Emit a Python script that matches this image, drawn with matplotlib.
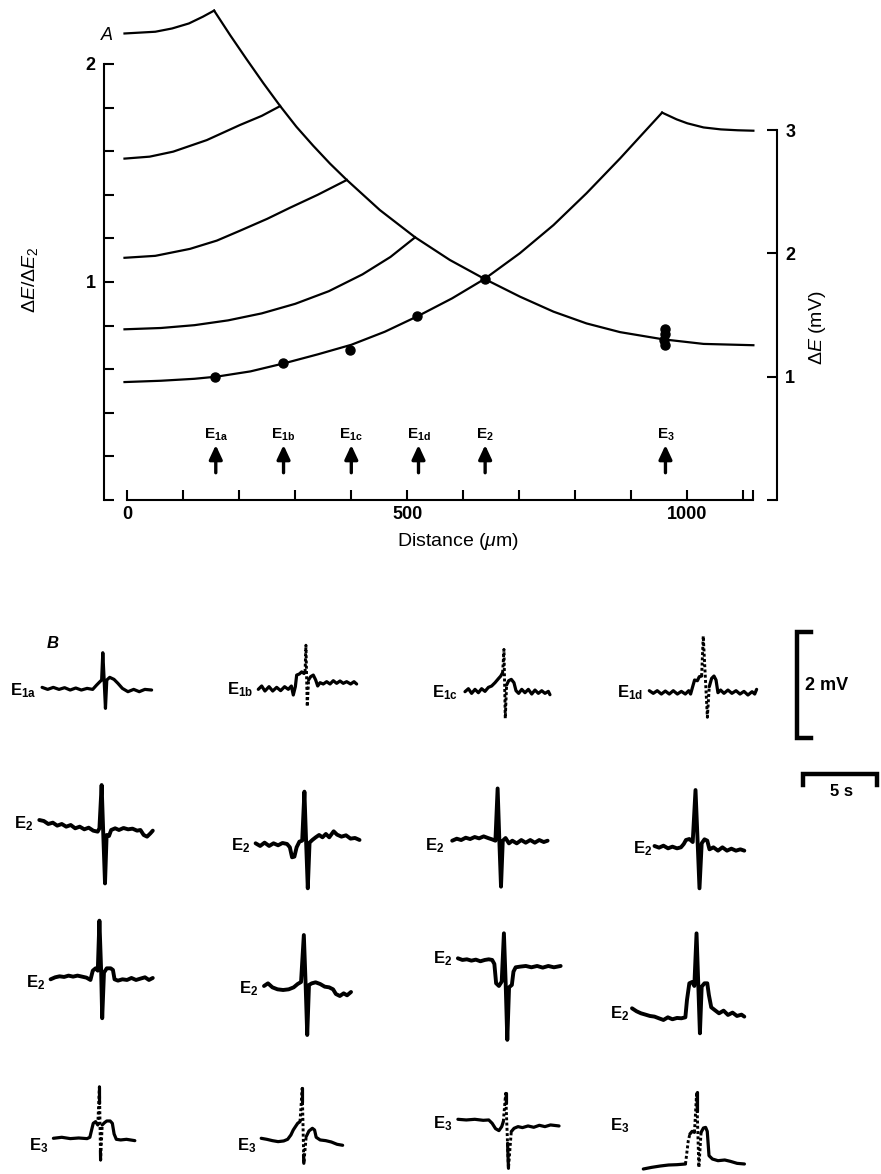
import numpy as np
import matplotlib.pyplot as plt

plt.rcParams['font.family'] = ['Liberation Sans', 'DejaVu Sans']
plt.rcParams['mathtext.fontset'] = 'custom'
plt.rcParams['mathtext.rm'] = 'Liberation Sans'
plt.rcParams['mathtext.it'] = 'Liberation Sans:italic'
plt.rcParams['mathtext.bf'] = 'Liberation Sans:bold'

W, H = 881, 1174

# ---------------- panel A data (distance in um, dE/dE2) ----------------
electrode_names = ['E_{1a}', 'E_{1b}', 'E_{1c}', 'E_{1d}', 'E_{2}', 'E_{3}']
electrode_pos = [158, 279, 400, 520, 639, 961]

# curves recorded with the reference electrode at E1a..E1d
curve_1a_x = [-5, 50, 80, 110, 135, 155]
curve_1a_y = [2.14, 2.148, 2.163, 2.186, 2.217, 2.245]
curve_1b_x = [-5, 40, 82, 142, 201, 240, 273]
curve_1b_y = [1.566, 1.575, 1.598, 1.651, 1.72, 1.762, 1.807]
curve_1c_x = [-5, 50, 112, 160, 201, 250, 290, 340, 392]
curve_1c_y = [1.111, 1.12, 1.152, 1.19, 1.235, 1.29, 1.34, 1.40, 1.468]
curve_1d_x = [-5, 60, 120, 180, 240, 300, 360, 420, 470, 514]
curve_1d_y = [0.783, 0.789, 0.802, 0.824, 0.856, 0.90, 0.958, 1.035, 1.115, 1.205]
# curve through the measured points, up to E3
curve_main_x = [-5, 60, 120, 160, 220, 280, 340, 400, 460, 520, 580, 638,
                701, 761, 820, 880, 921, 955]
curve_main_y = [0.541, 0.547, 0.556, 0.566, 0.59, 0.627, 0.668, 0.712, 0.772,
                0.845, 0.925, 1.014, 1.132, 1.261, 1.407, 1.567, 1.682, 1.777]
curve_end_x = [955, 981, 1000, 1029, 1060, 1090, 1118]
curve_end_y = [1.777, 1.746, 1.728, 1.709, 1.70, 1.696, 1.694]
# falling envelope
curve_fall_x = [155, 184, 213, 243, 273, 302, 332, 362, 392, 451, 514, 576, 638,
                701, 761, 820, 880, 957, 1029, 1118]
curve_fall_y = [2.245, 2.131, 2.022, 1.912, 1.807, 1.712, 1.625, 1.543, 1.468, 1.33,
                1.205, 1.101, 1.014, 0.933, 0.864, 0.81, 0.77, 0.737, 0.716, 0.710]
# measured points
dots_x = [157, 278, 398, 518, 638, 961, 960, 959, 960]
dots_y = [0.566, 0.627, 0.688, 0.845, 1.014, 0.785, 0.76, 0.735, 0.71]

# ---------------- panel B traces (t in s, v in mV) ----------------
e1a_trace = [(0, 0.025), (0.38, -0.013), (0.76, 0.025), (1.15, -0.013), (1.53, 0.019),
             (1.91, -0.025), (2.29, 0.013), (2.67, -0.025), (3.06, 0.006), (3.44, -0.013),
             (3.71, 0.069), (3.93, 0.131), (4.05, 0.163), (4.13, 0.675), (4.22, 0.163),
             (4.31, -0.369), (4.40, 0.163), (4.6, 0.213), (4.89, 0.175), (5.16, 0.10),
             (5.46, 0.006), (5.84, -0.056), (6.23, -0.013), (6.61, -0.056), (6.99, -0.013),
             (7.45, -0.025)]

e1b_pre = [(0, 0.0125), (0.23, 0.075), (0.45, -0.019), (0.73, 0.0625), (0.98, -0.019),
           (1.25, 0.05), (1.52, -0.0125), (1.79, 0.0625), (2.04, 0.0125), (2.25, 0.075),
           (2.38, -0.094), (2.52, 0.0625), (2.61, 0.28), (2.79, 0.30), (2.95, 0.34),
           (3.11, 0.31), (3.18, 0.34)]
e1b_spike = [(3.18, 0.34), (3.24, 0.84), (3.33, -0.31), (3.42, 0.19)]
e1b_post = [(3.42, 0.19), (3.56, 0.25), (3.74, 0.28), (3.90, 0.19), (4.04, 0.075),
            (4.20, 0.1375), (4.42, 0.1125), (4.65, 0.156), (4.88, 0.1125), (5.10, 0.175),
            (5.33, 0.125), (5.56, 0.169), (5.78, 0.125), (6.01, 0.156), (6.28, 0.1125),
            (6.51, 0.156), (6.69, 0.1125)]

e1c_pre = [(0, 0.019), (0.23, 0.075), (0.45, -0.0125), (0.68, 0.0625), (0.91, 0),
           (1.13, 0.075), (1.36, 0.025), (1.59, 0.1), (1.81, 0.125), (2.04, 0.1875),
           (2.27, 0.2625), (2.43, 0.3125), (2.56, 0.375)]
e1c_spike = [(2.56, 0.375), (2.65, 0.8125), (2.74, -0.48), (2.83, 0.144)]
e1c_post = [(2.83, 0.144), (2.97, 0.225), (3.15, 0.25), (3.33, 0.1875), (3.47, 0.0375),
            (3.65, -0.0125), (3.86, 0.0625), (4.08, 0), (4.31, 0.0625), (4.54, -0.025),
            (4.76, 0.05), (4.99, -0.0125), (5.22, 0.0375), (5.44, -0.0125), (5.67, 0.025),
            (5.78, -0.0375)]

e1d_pre = [(0, 0.019), (0.27, -0.031), (0.54, 0.019), (0.82, -0.044), (1.09, 0.0125),
           (1.36, -0.044), (1.63, 0.019), (1.91, -0.044), (2.18, 0.006), (2.45, -0.044),
           (2.68, 0.019), (2.81, -0.044), (2.95, 0.094), (3.08, 0.219), (3.27, 0.206),
           (3.40, 0.281), (3.56, 0.294)]
e1d_spike = [(3.56, 0.294), (3.67, 1.044), (3.95, -0.48), (4.08, 0.094)]
e1d_post = [(4.08, 0.094), (4.24, 0.25), (4.40, 0.294), (4.54, 0.219), (4.67, -0.019),
            (4.85, 0.031), (5.08, -0.031), (5.35, 0.031), (5.62, -0.031), (5.90, 0.019),
            (6.17, -0.044), (6.44, 0.006), (6.71, -0.0625), (6.99, 0), (7.17, -0.044),
            (7.30, 0.044)]

e2_r2c1 = [(0, 0), (0.31, -0.019), (0.61, -0.075), (0.92, -0.05), (1.22, -0.106),
           (1.53, -0.075), (1.83, -0.125), (2.14, -0.094), (2.44, -0.156), (2.75, -0.125),
           (3.06, -0.175), (3.36, -0.144), (3.67, -0.2), (3.97, -0.219), (4.09, -0.156),
           (4.24, 0.656), (4.35, -0.25), (4.47, -1.19), (4.58, -0.281), (4.74, -0.3),
           (4.89, -0.1875), (5.16, -0.156), (5.42, -0.1875), (5.73, -0.15), (6.04, -0.175),
           (6.34, -0.1625), (6.65, -0.2), (6.88, -0.1875), (7.1, -0.281), (7.33, -0.3125),
           (7.56, -0.25), (7.72, -0.2)]
e2_r2c2 = [(0, 0), (0.31, -0.05), (0.61, 0.0125), (0.92, -0.05), (1.22, 0), (1.53, -0.0375),
           (1.83, 0.006), (2.14, -0.0125), (2.33, -0.075), (2.48, -0.2625), (2.64, -0.25),
           (2.79, -0.075), (2.98, 0.031), (3.17, 0.05), (3.32, 0.969), (3.44, 0),
           (3.55, -0.844), (3.67, 0.0125), (3.86, 0.0625), (4.09, 0.1125), (4.32, 0.156),
           (4.55, 0.1125), (4.78, 0.175), (5.01, 0.1125), (5.31, 0.225), (5.54, 0.1625),
           (5.84, 0.125), (6.15, 0.15), (6.46, 0.0875), (6.76, 0.1), (7.07, 0.0625)]
e2_r2c3 = [(0, 0), (0.31, 0.0375), (0.61, 0.0125), (0.92, 0.056), (1.22, 0.031),
           (1.53, 0.069), (1.83, 0.044), (2.14, 0.081), (2.44, 0.05), (2.71, 0.025),
           (2.94, 0), (3.09, 0.98), (3.21, -0.019), (3.32, -0.8625), (3.44, 0), (3.63, 0.05),
           (3.86, -0.05), (4.09, 0), (4.39, -0.05), (4.70, 0.0125), (5.00, -0.0375),
           (5.31, 0.0125), (5.62, -0.0375), (5.92, 0.0125), (6.23, -0.025), (6.49, 0)]
e2_r2c4 = [(0, 0), (0.31, -0.031), (0.61, 0.006), (0.92, -0.044), (1.22, -0.0125),
           (1.53, -0.044), (1.80, -0.025), (1.99, 0.0375), (2.14, 0.1125), (2.37, 0.131),
           (2.60, 0.075), (2.79, 1.05), (2.94, 0.0375), (3.06, -0.794), (3.21, 0.05),
           (3.40, 0.125), (3.59, 0.1), (3.74, -0.0625), (4.01, -0.025), (4.32, -0.0875),
           (4.62, -0.025), (4.93, -0.0875), (5.23, -0.05), (5.54, -0.0875), (5.84, -0.0625),
           (6.11, -0.0875)]

e2_r3c1 = [(0, 0), (0.31, 0.0375), (0.61, 0.056), (0.92, 0.044), (1.22, 0.069), (1.53, 0.05),
           (1.83, 0.069), (2.14, 0.05), (2.44, 0.031), (2.71, -0.0125), (2.87, 0.1625),
           (3.06, 0.206), (3.21, 0.1625), (3.32, 1.10), (3.44, 0.144), (3.51, -0.73),
           (3.63, 0.125), (3.82, 0.206), (4.09, 0.206), (4.24, 0.175), (4.35, 0),
           (4.58, -0.025), (4.89, 0), (5.20, -0.0125), (5.50, 0.025), (5.81, -0.0125),
           (6.11, 0.0125), (6.42, 0.0375), (6.69, -0.0125), (6.95, 0.025)]
e2_r3c2 = [(0, 0), (0.27, 0.05), (0.57, -0.025), (0.92, -0.0625), (1.30, -0.075),
           (1.68, -0.0625), (2.02, -0.025), (2.29, 0.0375), (2.52, 0.075), (2.71, 0.956),
           (2.83, 0.05), (2.94, -0.919), (3.06, 0.019), (3.25, 0.05), (3.51, 0.069),
           (3.82, 0.0375), (4.13, -0.0125), (4.43, -0.025), (4.70, -0.0625), (4.89, -0.15),
           (5.16, -0.1875), (5.42, -0.1375), (5.65, -0.175), (5.92, -0.1125)]
e2_r3c3 = [(0, 0), (0.31, -0.031), (0.61, -0.019), (0.92, -0.044), (1.22, -0.025),
           (1.53, -0.056), (1.83, -0.031), (2.10, -0.019), (2.33, -0.031), (2.48, -0.106),
           (2.60, -0.469), (2.79, -0.519), (2.98, -0.4375), (3.13, 0.469), (3.25, -0.469),
           (3.36, -1.53), (3.48, -0.544), (3.67, -0.5), (3.78, -0.25), (3.93, -0.169),
           (4.24, -0.156), (4.62, -0.144), (5.00, -0.169), (5.39, -0.144), (5.77, -0.175),
           (6.15, -0.144), (6.53, -0.169), (6.99, -0.144)]
e2_r3c4 = [(0, 0), (0.31, -0.056), (0.61, -0.094), (0.92, -0.119), (1.22, -0.144),
           (1.53, -0.156), (1.83, -0.1875), (2.14, -0.219), (2.44, -0.169), (2.75, -0.206),
           (3.06, -0.181), (3.36, -0.1875), (3.63, -0.169), (3.74, 0.156), (3.90, 0.469),
           (4.09, 0.494), (4.24, 0.419), (4.39, 1.406), (4.51, 0.4375), (4.62, -0.469),
           (4.74, 0.406), (4.93, 0.469), (5.12, 0.469), (5.23, 0.25), (5.39, 0.019),
           (5.62, -0.031), (5.92, -0.094), (6.23, -0.044), (6.53, -0.125), (6.84, -0.081),
           (7.14, -0.144), (7.45, -0.119), (7.64, -0.156)]

e3_c1_pre = [(0, 0), (0.57, 0.019), (1.15, -0.006), (1.72, 0.006), (2.29, -0.006),
             (2.48, 0.019), (2.60, 0.156), (2.71, 0.281), (2.87, 0.3125), (3.02, 0.25)]
e3_c1_spike = [(3.02, 0.25), (3.13, 0.969), (3.21, -0.406), (3.32, 0.25)]
e3_c1_top = [(3.13, 0.969), (3.13, 0.656)]
e3_c1_bottom = [(3.20, -0.231), (3.21, -0.406)]
e3_c1_post = [(3.32, 0.25), (3.48, 0.294), (3.63, 0.325), (3.86, 0.325), (4.01, 0.281),
              (4.13, 0.081), (4.28, -0.019), (4.58, -0.031), (4.97, -0.019), (5.54, -0.044)]

e3_c2_pre = [(0, 0), (0.38, -0.019), (0.76, -0.044), (1.15, -0.0625), (1.53, -0.05),
             (1.80, -0.019), (2.02, 0.0625), (2.18, 0.156), (2.33, 0.219), (2.48, 0.281),
             (2.64, 0.3125)]
e3_c2_spike = [(2.64, 0.3125), (2.79, 0.9375), (2.90, -0.469), (3.06, 0.031)]
e3_c2_top = [(2.79, 0.9375), (2.79, 0.6875)]
e3_c2_bottom = [(2.88, -0.3125), (2.90, -0.469)]
e3_c2_post = [(3.06, 0.031), (3.25, 0.1375), (3.48, 0.1875), (3.63, 0.156), (3.74, 0.019),
              (4.01, -0.031), (4.39, -0.044), (4.77, -0.069), (5.16, -0.1125), (5.54, -0.131)]

e3_c3_pre = [(0, 0), (0.57, -0.0125), (1.15, 0), (1.72, -0.019), (2.10, -0.0125),
             (2.33, -0.075), (2.56, -0.175), (2.79, -0.2125), (2.98, -0.1375), (3.09, -0.044)]
e3_c3_spike = [(3.09, -0.044), (3.25, 0.4875), (3.44, -0.919), (3.63, -0.231)]
e3_c3_top = [(3.25, 0.4875), (3.25, 0.3)]
e3_c3_bottom = [(3.38, -0.45), (3.44, -0.919)]
e3_c3_post = [(3.63, -0.231), (3.82, -0.169), (4.09, -0.1375), (4.39, -0.156), (4.77, -0.125),
              (5.16, -0.15), (5.54, -0.1125), (5.92, -0.1375), (6.30, -0.106), (6.88, -0.125)]

e3_c4_pre = [(0, 0), (0.57, 0.031), (1.15, 0.056), (1.72, 0.075), (2.29, 0.081), (2.87, 0.094)]
e3_c4_rise = [(2.87, 0.094), (3.06, 0.531), (3.17, 0.656)]
e3_c4_plateau = [(3.17, 0.656), (3.32, 0.706), (3.48, 0.6875)]
e3_c4_spike = [(3.48, 0.6875), (3.63, 1.4375), (3.78, 0.031), (3.93, 0.6875)]
e3_c4_top = [(3.63, 1.4375), (3.63, 1.094)]
e3_c4_post = [(3.93, 0.6875), (4.09, 0.769), (4.24, 0.781), (4.35, 0.706), (4.47, 0.25),
              (4.70, 0.1875), (5.08, 0.156), (5.54, 0.169), (5.92, 0.144), (6.38, 0.106),
              (6.88, 0.094)]

scale_mv = 2
scale_s = 5

# ---------------- layout ----------------
PX_S = 14.7    # px per second in panel B
PX_MV = 53.3   # px per mV in panel B

# label, trace origin (px), label right edge / baseline (px), line width,
# solid segments, dotted segments
trace_layout = [
    ('E_{1a}', 42.1, 688.7, 36.5, 695, 2.3, [e1a_trace], []),
    ('E_{1b}', 258.3, 690.0, 253, 694, 2.3, [e1b_pre, e1b_post], [e1b_spike]),
    ('E_{1c}', 465.0, 692.7, 458, 697, 2.3, [e1c_pre, e1c_post], [e1c_spike]),
    ('E_{1d}', 649.3, 691.7, 643, 697, 2.3, [e1d_pre, e1d_post], [e1d_spike]),
    ('E_{2}', 39.3, 820.0, 33.7, 828, 2.8, [e2_r2c1], []),
    ('E_{2}', 255.6, 843.3, 250, 850, 2.8, [e2_r2c2], []),
    ('E_{2}', 452.2, 840.7, 444, 850, 2.8, [e2_r2c3], []),
    ('E_{2}', 654.5, 846.0, 652, 853, 2.8, [e2_r2c4], []),
    ('E_{2}', 50.6, 979.3, 45, 987, 2.8, [e2_r3c1], []),
    ('E_{2}', 264.0, 986.0, 258, 993, 2.8, [e2_r3c2], []),
    ('E_{2}', 457.9, 958.3, 452, 963, 2.8, [e2_r3c3], []),
    ('E_{2}', 632.0, 1008.3, 629, 1018, 2.8, [e2_r3c4], []),
    ('E_{3}', 53.4, 1138.3, 48, 1150, 2.3,
     [e3_c1_pre, e3_c1_post, e3_c1_top, e3_c1_bottom], [e3_c1_spike]),
    ('E_{3}', 261.2, 1138.3, 256, 1150, 2.3,
     [e3_c2_pre, e3_c2_post, e3_c2_top, e3_c2_bottom], [e3_c2_spike]),
    ('E_{3}', 457.9, 1119.3, 452, 1128, 2.3,
     [e3_c3_pre, e3_c3_post, e3_c3_top, e3_c3_bottom], [e3_c3_spike]),
    ('E_{3}', 643.3, 1169.0, 629, 1130, 2.3,
     [e3_c4_pre, e3_c4_plateau, e3_c4_post, e3_c4_top], [e3_c4_rise, e3_c4_spike]),
]

fig = plt.figure(figsize=(W / 100, H / 100), dpi=100)


def fx(px):
    return px / W


def fy(py):
    return 1 - py / H


# ---------------- panel B ----------------
axb = fig.add_axes([0, 0, 1, 1])
axb.set_xlim(0, W / PX_S)
axb.set_ylim(0, H / PX_MV)
axb.axis('off')


def draw_seg(seg, ox, oy, **kw):
    t = np.array([p[0] for p in seg]) + ox
    v = np.array([p[1] for p in seg]) + oy
    axb.plot(t, v, color='k', solid_capstyle='round', solid_joinstyle='round', **kw)


for name, x0, y0, lx, ly, lw, solids, dotted in trace_layout:
    ox = x0 / PX_S
    oy = (H - y0) / PX_MV
    for seg in solids:
        draw_seg(seg, ox, oy, lw=lw)
    for seg in dotted:
        draw_seg(seg, ox, oy, lw=2.1, linestyle=(0, (1.0, 0.8)))
    fig.text(fx(lx), fy(ly), r'$\mathbf{%s}$' % name, ha='right', va='baseline',
             fontsize=12)

# scale bars
bx = 796.7 / PX_S
by = (H - 738.3) / PX_MV
axb.plot([bx + 1.0, bx, bx, bx + 1.0], [by, by, by + scale_mv, by + scale_mv],
         color='k', lw=3.2, solid_joinstyle='miter')
fig.text(fx(805), fy(686), '2 mV', ha='left', va='center', fontsize=13, fontweight='bold')
sx = 803 / PX_S
sy = (H - 774) / PX_MV
axb.plot([sx, sx, sx + scale_s, sx + scale_s], [sy - 0.2, sy, sy, sy - 0.2],
         color='k', lw=3.2, solid_joinstyle='miter')
fig.text(fx(842), fy(791), '5 s', ha='center', va='center', fontsize=12, fontweight='bold')
fig.text(fx(53), fy(643), 'B', ha='center', va='center', fontsize=12, style='italic',
         fontweight='bold')

# ---------------- panel A ----------------
X0_PX, PX_UM = 127.3, 0.56     # px position of 0 um, px per um
Y0_PX, PX_UNIT = 500.0, 218.0  # px position of 0, px per dE/dE2 unit
MV_PER_UNIT = PX_UNIT / 123.3

ax = fig.add_axes([fx(100), fy(520), 690 / W, 520 / H])
ax.patch.set_visible(False)
ax.set_xlim((100 - X0_PX) / PX_UM, (790 - X0_PX) / PX_UM)
ylim = ((Y0_PX - 520) / PX_UNIT, Y0_PX / PX_UNIT)
ax.set_ylim(*ylim)

for cx, cy in [(curve_1a_x, curve_1a_y), (curve_1b_x, curve_1b_y),
               (curve_1c_x, curve_1c_y), (curve_1d_x, curve_1d_y),
               (curve_main_x, curve_main_y), (curve_end_x, curve_end_y),
               (curve_fall_x, curve_fall_y)]:
    ax.plot(cx, cy, color='k', lw=1.6, solid_joinstyle='round')
ax.plot(dots_x, dots_y, 'o', color='k', ms=6.5)

for name, xp in zip(electrode_names, electrode_pos):
    ax.annotate('', xy=(xp, 0.252), xytext=(xp, 0.125),
                arrowprops=dict(arrowstyle='-|>,head_length=0.6,head_width=0.28',
                                color='k', lw=2.4, mutation_scale=14, shrinkA=0, shrinkB=0))
    ax.text(xp, 0.30, r'$\mathbf{%s}$' % name, ha='center', va='center', fontsize=11)

ax.spines['top'].set_visible(False)
ax.spines['right'].set_visible(False)
ax.spines['left'].set_position(('data', (104 - X0_PX) / PX_UM))
ax.spines['left'].set_bounds(0, 2)
ax.spines['bottom'].set_position(('data', 0))
ax.spines['bottom'].set_bounds(0, 1117)
for s in ax.spines.values():
    s.set_linewidth(1.5)

ax.set_xticks([0, 100, 200, 300, 400, 500, 600, 700, 800, 900, 1000, 1100])
ax.set_xticklabels(['0', '', '', '', '', '500', '', '', '', '', '1000', ''])
ax.set_xticks([1117], minor=True)
ax.set_yticks([0, 0.2, 0.4, 0.6, 0.8, 1.0, 1.2, 1.4, 1.6, 1.8, 2.0])
ax.set_yticklabels(['', '', '', '', '', '1', '', '', '', '', '2'])
ax.tick_params(which='both', direction='in', length=7.2, width=1.5, labelsize=13)
ax.tick_params(axis='x', pad=4)
ax.tick_params(axis='y', pad=6)
for lab in ax.get_xticklabels() + ax.get_yticklabels():
    lab.set_fontweight('bold')

ax2 = ax.twinx()
ax2.set_ylim(ylim[0] * MV_PER_UNIT, ylim[1] * MV_PER_UNIT)
for side in ['left', 'top', 'bottom']:
    ax2.spines[side].set_visible(False)
ax2.spines['right'].set_position(('data', (777 - X0_PX) / PX_UM))
ax2.spines['right'].set_bounds(0, 3)
ax2.spines['right'].set_linewidth(1.5)
ax2.set_yticks([0, 1, 2, 3])
ax2.set_yticklabels(['', '1', '2', '3'])
ax2.tick_params(axis='y', direction='in', length=7.2, width=1.5, labelsize=13, pad=6)
for lab in ax2.get_yticklabels():
    lab.set_fontweight('bold')

fig.text(fx(30), fy(280), r'$\Delta E/\Delta E_2$', rotation=90, ha='center', va='center',
         fontsize=14)
fig.text(fx(818), fy(328), r'$\Delta E$ (mV)', rotation=90, ha='center', va='center',
         fontsize=14)
fig.text(fx(458), fy(542), r'Distance ($\mu$m)', ha='center', va='center', fontsize=14)
fig.text(fx(107), fy(36), 'A', ha='center', va='center', fontsize=13, style='italic')

fig.savefig('out.png', dpi=100)
